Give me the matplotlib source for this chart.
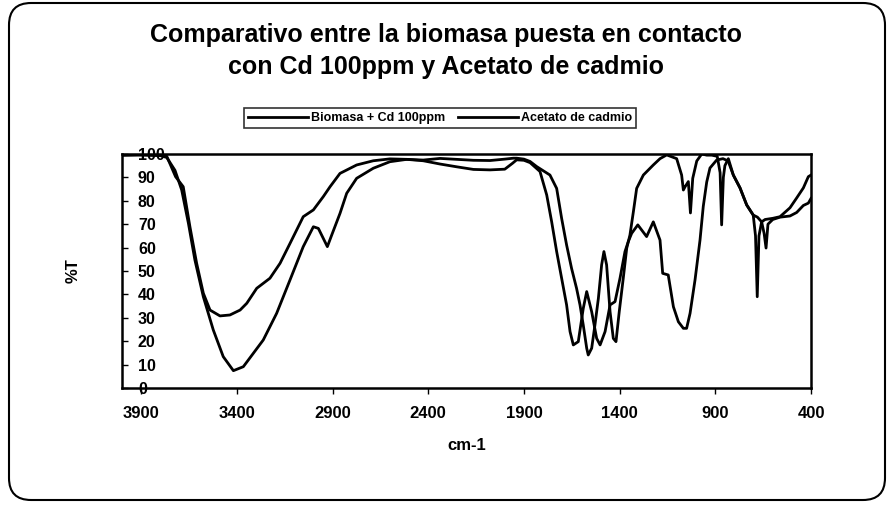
import matplotlib
matplotlib.use("Agg")
import matplotlib.pyplot as plt
from matplotlib.patches import FancyBboxPatch
from matplotlib.transforms import IdentityTransform

plt.rcParams['font.family'] = ['Liberation Sans', 'DejaVu Sans']

# Espectros IR (numero de onda en cm-1, %T)
wn_biomasa = [3993, 3900, 3800, 3766, 3723, 3688, 3653, 3619, 3575, 3523, 3471, 3418, 3366,
              3314, 3262, 3192, 3122, 3053, 3000, 2974, 2927, 2904, 2861, 2826, 2774, 2687,
              2600, 2512, 2426, 2338, 2250, 2164, 2077, 2000, 1960, 1938, 1900, 1868, 1816,
              1781, 1755, 1729, 1703, 1677, 1659, 1642, 1616, 1590, 1572, 1546, 1520, 1502,
              1476, 1450, 1424, 1398, 1372, 1355, 1337, 1305, 1259, 1224, 1189, 1175, 1146,
              1119, 1093, 1067, 1050, 1032, 1006, 980, 963, 945, 928, 893, 860, 833, 806,
              771, 736, 702, 680, 658, 645, 635, 625, 600, 562, 510, 475, 440, 414, 400]
t_biomasa = [99.5, 99.5, 99.3, 98.5, 93, 84.6, 70.4, 54.7, 39, 24.8, 13.4, 7.4, 9.1,
             14.8, 20.5, 31.9, 46.2, 60.4, 68.9, 68.2, 60.4, 65.4, 74.6, 83.2, 89.6, 93.9,
             96.7, 97.7, 97.1, 95.7, 94.5, 93.4, 93.2, 93.5, 96, 97.5, 97.3, 96.3, 92.5,
             82.5, 71, 58.3, 46.9, 35.5, 24.1, 18.4, 19.8, 34, 41.2, 32.6, 21.2, 18.4,
             24.1, 35.5, 36.9, 46.9, 58.3, 62.5, 66.1, 69.7, 64.7, 71, 63.2, 49, 48.3,
             34.7, 28.3, 25.5, 25.5, 31.9, 46.2, 63.2, 77.6, 88, 94, 97.4, 98, 97, 91,
             85.5, 78.2, 73.9, 73, 71, 66, 59.8, 70, 72, 73, 73.5, 75, 78, 79, 81]

wn_acetato = [3993, 3900, 3800, 3766, 3720, 3680, 3645, 3610, 3575, 3540, 3488, 3436, 3383,
              3348, 3296, 3227, 3174, 3122, 3053, 3000, 2948, 2913, 2861, 2774, 2687, 2600,
              2512, 2426, 2338, 2251, 2164, 2077, 2000, 1955, 1938, 1900, 1868, 1833, 1764,
              1729, 1703, 1677, 1651, 1625, 1607, 1590, 1572, 1564, 1546, 1529, 1511, 1494,
              1482, 1468, 1450, 1433, 1419, 1402, 1381, 1363, 1346, 1328, 1311, 1276, 1224,
              1189, 1154, 1102, 1076, 1067, 1058, 1041, 1030, 1018, 997, 971, 945, 919, 890,
              875, 867, 858, 850, 832, 806, 771, 736, 702, 690, 681, 672, 658, 640, 600,
              562, 510, 475, 440, 414, 400]
t_acetato = [99.5, 99.8, 99.5, 99, 90.3, 86, 68.9, 53.3, 40.5, 33.3, 30.8, 31.2, 33.3,
             36.2, 42.6, 46.9, 53.3, 61.8, 73.2, 76.1, 81.8, 86, 91.7, 95.3, 97.1, 97.9,
             97.7, 97.4, 98.1, 97.7, 97.3, 97.2, 97.8, 98.2, 98.2, 97.8, 96.8, 94.6, 91,
             85.3, 72.5, 61.1, 51.1, 42.6, 35.5, 26.9, 17, 14.1, 17, 26.9, 38.3, 52.6,
             58.3, 52.6, 32.6, 21.2, 19.8, 32.6, 46.9, 59.7, 65.4, 75.4, 85.3, 91, 95.3,
             98, 99.6, 98, 91, 84.6, 86, 88.2, 74.8, 89.6, 97, 100, 99.5, 99.5, 99,
             92, 69.7, 90, 95, 98, 91, 85.5, 78.2, 73.9, 65, 39, 65, 71, 72, 72.5,
             73.2, 77, 81.2, 85.5, 90.3, 91]

x_ticks = [3900, 3400, 2900, 2400, 1900, 1400, 900, 400]
y_ticks = [0, 10, 20, 30, 40, 50, 60, 70, 80, 90, 100]

# Figura
fig = plt.figure(figsize=(8.93, 5.05), dpi=100)
ax = fig.add_axes([0.1366, 0.2317, 0.7716, 0.4634])

ax.plot(wn_biomasa, t_biomasa, color='black', lw=2.0, label='Biomasa + Cd 100ppm')
ax.plot(wn_acetato, t_acetato, color='black', lw=2.0, label='Acetato de cadmio')

ax.set_xlim(4000, 400)
ax.set_ylim(0, 100)
ax.set_xticks(x_ticks)
ax.set_yticks(y_ticks)
ax.set_xticklabels([str(v) for v in x_ticks], fontsize=12, fontweight='bold')
ax.set_yticklabels([str(v) for v in y_ticks], fontsize=11.5, fontweight='bold')
plt.setp(ax.get_yticklabels(), ha='left')
ax.tick_params(axis='x', direction='out', length=4, width=1, pad=9)
ax.tick_params(axis='y', direction='in', length=4, width=1, pad=-11.5)
for s in ax.spines.values():
    s.set_linewidth(1.8)

ax.set_xlabel('cm-1', fontsize=12, fontweight='bold', labelpad=12)
ax.set_ylabel('%T', fontsize=12, fontweight='bold', labelpad=30)

# Titulo en dos lineas
fig.text(0.5, 1 - 35 / 505, 'Comparativo entre la biomasa puesta en contacto',
         ha='center', va='center', fontsize=18, fontweight='bold')
fig.text(0.5, 1 - 67 / 505, 'con Cd 100ppm y Acetato de cadmio',
         ha='center', va='center', fontsize=18, fontweight='bold')

# Leyenda arriba del grafico
leg = fig.legend(loc='center', bbox_to_anchor=(440 / 893, 1 - 118 / 505), ncol=2,
                 frameon=True, fancybox=False, edgecolor='black', handlelength=4.8,
                 columnspacing=1.0, handletextpad=0.25, borderpad=0.35,
                 prop=dict(weight='bold', size=9))
leg.get_frame().set_linewidth(1.2)

# Borde redondeado exterior
box = FancyBboxPatch((9, 5), 876, 497, boxstyle='round,pad=0,rounding_size=22',
                     transform=IdentityTransform(), facecolor='none',
                     edgecolor='black', lw=1.5)
fig.add_artist(box)

fig.savefig('out.png', dpi=100)
